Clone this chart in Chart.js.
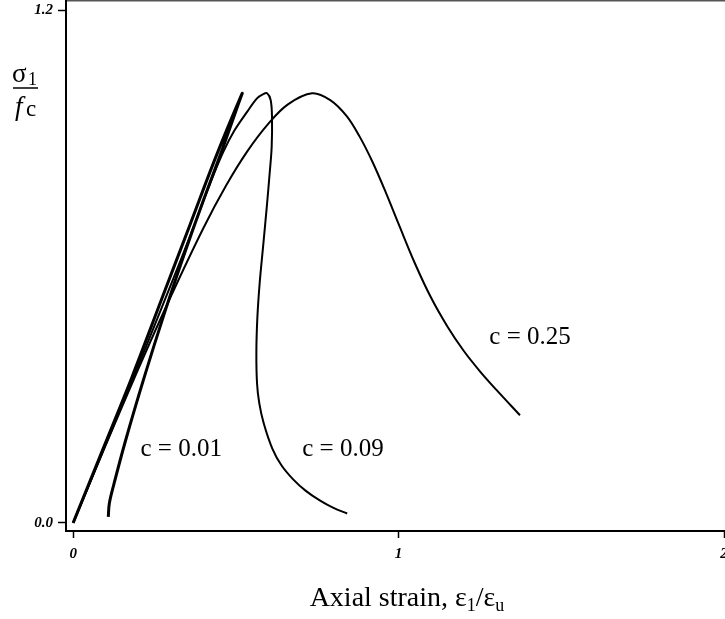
<!DOCTYPE html>
<html>
<head>
<meta charset="utf-8">
<script src="https://cdn.jsdelivr.net/npm/chart.js@4/dist/chart.umd.min.js"></script>
<style>
  html, body { margin: 0; padding: 0; background: #fff; overflow: hidden; }
  #wrap { position: relative; width: 725px; height: 619px; }
</style>
</head>
<body>
<div id="wrap"><canvas id="chart"></canvas></div>
<script>
// c = 0.01 : loads up almost linearly, then snaps back
const strainC001 = [0, 0.09, 0.18, 0.27, 0.36, 0.44, 0.519, 0.505, 0.46, 0.40, 0.34, 0.28, 0.218, 0.160, 0.125, 0.111, 0.108];
const stressC001 = [0, 0.17, 0.34, 0.52, 0.70, 0.86, 1.005, 0.975, 0.878, 0.755, 0.626, 0.49, 0.340, 0.19, 0.09, 0.045, 0.014];

// c = 0.09 : steep drop after peak, bends back a little
const strainC009 = [0, 0.09, 0.18, 0.27, 0.338, 0.381, 0.421, 0.461, 0.495, 0.535, 0.565, 0.584, 0.596, 0.607, 0.611, 0.610, 0.604, 0.595, 0.584, 0.573, 0.566, 0.563, 0.565, 0.572, 0.586, 0.612, 0.640, 0.676, 0.715, 0.759, 0.80, 0.842];
const stressC009 = [0, 0.165, 0.33, 0.50, 0.63, 0.715, 0.795, 0.868, 0.918, 0.963, 0.994, 1.004, 1.006, 0.99, 0.95, 0.88, 0.82, 0.74, 0.65, 0.56, 0.48, 0.40, 0.327, 0.28, 0.232, 0.174, 0.135, 0.102, 0.075, 0.052, 0.035, 0.022];

// c = 0.25 : softer, ductile softening branch
const strainC025 = [0, 0.10, 0.20, 0.30, 0.40, 0.47, 0.535, 0.60, 0.66, 0.734, 0.79, 0.84, 0.88, 0.92, 0.96, 1.00, 1.05, 1.10, 1.15, 1.20, 1.25, 1.30, 1.373];
const stressC025 = [0, 0.182, 0.36, 0.53, 0.69, 0.79, 0.87, 0.935, 0.98, 1.006, 0.99, 0.953, 0.905, 0.845, 0.775, 0.70, 0.608, 0.527, 0.46, 0.403, 0.355, 0.312, 0.252];

const xTicks = [0, 1, 2];
const xTickLabels = ['0', '1', '2'];
const yTicks = [0, 1.2];
const yTickLabels = ['0.0', '1.2'];

const curveLabels = ['c = 0.01', 'c = 0.09', 'c = 0.25'];
const curveLabelAt = [[0.332, 0.173], [0.829, 0.173], [1.404, 0.435]];

const toPoints = (xs, ys) => xs.map((x, i) => ({ x, y: ys[i] }));

const serif = '"Liberation Serif", "DejaVu Serif", serif';
const tickFont = { family: serif, size: 15, style: 'italic', weight: 'bold' };

function line(label, xs, ys, width) {
    return {
        label,
        data: toPoints(xs, ys),
        showLine: true,
        borderColor: '#000',
        borderWidth: width,
        pointRadius: 0,
        tension: 0.35,
        fill: false,
    };
}

const textPlugin = {
    id: 'texts',
    afterDraw(chart) {
        const ctx = chart.ctx;
        const xs = chart.scales.x, ys = chart.scales.y;
        ctx.save();
        ctx.fillStyle = '#000';
        ctx.strokeStyle = '#000';

        // curve labels
        ctx.font = '25px ' + serif;
        ctx.textAlign = 'center';
        ctx.textBaseline = 'middle';
        curveLabels.forEach((t, i) => {
            ctx.fillText(t, xs.getPixelForValue(curveLabelAt[i][0]), ys.getPixelForValue(curveLabelAt[i][1]));
        });

        // y title: sigma_1 over f_c
        ctx.textAlign = 'left';
        ctx.textBaseline = 'alphabetic';
        ctx.font = '27px ' + serif;
        ctx.fillText('σ', 12, 82);
        ctx.font = '18px ' + serif;
        ctx.fillText('1', 28, 85);
        ctx.lineWidth = 1.5;
        ctx.beginPath();
        ctx.moveTo(13, 88);
        ctx.lineTo(38, 88);
        ctx.stroke();
        ctx.font = 'italic 27px ' + serif;
        ctx.fillText('f', 15, 115);
        ctx.font = '23px ' + serif;
        ctx.fillText('c', 26, 116);

        // x title
        const parts = [
            ['Axial strain, ε', '28px ' + serif, 0],
            ['1', '18px ' + serif, 5],
            ['/ε', '28px ' + serif, 0],
            ['u', '18px ' + serif, 5],
        ];
        let total = 0;
        parts.forEach(p => { ctx.font = p[1]; total += ctx.measureText(p[0]).width; });
        let cx = 407 - total / 2;
        parts.forEach(p => {
            ctx.font = p[1];
            ctx.fillText(p[0], cx, 606 + p[2]);
            cx += ctx.measureText(p[0]).width;
        });
        ctx.restore();
    }
};

new Chart(document.getElementById('chart'), {
    type: 'scatter',
    data: {
        datasets: [
            line('c = 0.01', strainC001, stressC001, 3),
            line('c = 0.09', strainC009, stressC009, 2),
            line('c = 0.25', strainC025, stressC025, 2),
        ],
    },
    options: {
        responsive: true,
        maintainAspectRatio: false,
        animation: false,
        layout: { padding: { top: 1, right: 1, left: 0, bottom: 0 } },
        plugins: {
            legend: { display: false },
            tooltip: { enabled: false },
        },
        scales: {
            x: {
                type: 'linear',
                min: -0.022,
                max: 2.0,
                afterBuildTicks: s => { s.ticks = xTicks.map(v => ({ value: v })); },
                afterFit: s => { s.height = 88; s.paddingLeft = 0; s.paddingRight = 0; },
                ticks: {
                    color: '#000',
                    font: tickFont,
                    padding: 7,
                    maxRotation: 0,
                    callback: (v, i) => xTickLabels[i],
                },
                grid: { drawOnChartArea: false, tickLength: 7, color: '#000', tickWidth: 1.5 },
                border: { color: '#000', width: 2 },
            },
            xTop: {
                type: 'linear',
                position: 'top',
                min: -0.022,
                max: 2.0,
                afterFit: s => { s.height = 0; s.paddingLeft = 0; s.paddingRight = 0; },
                ticks: { display: false },
                grid: { display: false },
                border: { color: '#555', width: 1.5 },
            },
            y: {
                type: 'linear',
                min: -0.019,
                max: 1.222,
                afterBuildTicks: s => { s.ticks = yTicks.map(v => ({ value: v })); },
                afterFit: s => { s.width = 66; s.paddingTop = 0; s.paddingBottom = 0; },
                ticks: {
                    color: '#000',
                    font: tickFont,
                    padding: 5,
                    callback: (v, i) => yTickLabels[i],
                },
                grid: { drawOnChartArea: false, tickLength: 8, color: '#000', tickWidth: 1.5 },
                border: { color: '#000', width: 2 },
            },
        },
    },
    plugins: [textPlugin],
});
</script>
</body>
</html>
